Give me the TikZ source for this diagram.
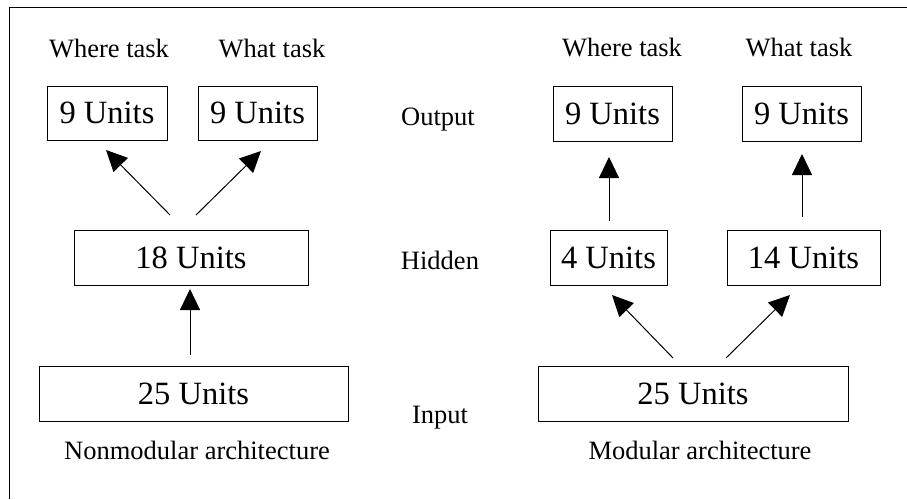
\documentclass[tikz,border=0pt]{standalone}
\usepackage{fontspec}
\setmainfont{Liberation Serif}
\usetikzlibrary{arrows.meta}
\tikzset{
  unitbox/.style={draw, line width=1pt, inner sep=0pt, font=\fontsize{32.5}{38}\selectfont},
  lbl/.style={inner sep=0pt, font=\fontsize{26.5}{32}\selectfont},
  conn/.style={line width=1pt, -{Triangle[length=21pt,width=20pt]}}
}
\begin{document}
\begin{tikzpicture}[x=1pt,y=-1pt]
\useasboundingbox (0,0) rectangle (907,499);
% frame (top and left only)
\draw[line width=1pt] (907,7.5) -- (9,7.5) -- (9,499);

% ---- Nonmodular ----
\node[lbl] (lwhere) at (109,49) {Where task};
\node[lbl] (lwhat) at (272,49) {What task};
\node[unitbox, minimum width=120pt, minimum height=54pt] (lo1) at (107,113) {9 Units};
\node[unitbox, minimum width=119pt, minimum height=54pt] (lo2) at (257.5,113) {9 Units};
\node[unitbox, minimum width=234pt, minimum height=55pt] (lh) at (191,257.5) {18 Units};
\node[unitbox, minimum width=309pt, minimum height=55pt] (li) at (193.5,393.5) {25 Units};
\node[lbl] (lcap) at (197,450) {Nonmodular architecture};

\coordinate (la1s) at (170,215);
\coordinate (la1e) at (106,150);
\coordinate (la2s) at (196,215);
\coordinate (la2e) at (261,151);
\coordinate (la3s) at (190,355);
\coordinate (la3e) at (190,289);
\draw[conn] (la1s) -- (la1e);
\draw[conn] (la2s) -- (la2e);
\draw[conn] (la3s) -- (la3e);

% ---- Layer labels ----
\node[lbl] (outl) at (438,120) {Output};
\node[lbl] (hidl) at (440,260) {Hidden};
\node[lbl] (inl) at (440,418) {Input};

% ---- Modular ----
\node[lbl] (rwhere) at (622,48) {Where task};
\node[lbl] (rwhat) at (799,48) {What task};
\node[unitbox, minimum width=119pt, minimum height=55pt] (ro1) at (612.5,113.5) {9 Units};
\node[unitbox, minimum width=119pt, minimum height=55pt] (ro2) at (801.5,113.5) {9 Units};
\node[unitbox, minimum width=117pt, minimum height=55pt] (rh1) at (608.5,257.5) {4 Units};
\node[unitbox, minimum width=153pt, minimum height=55pt] (rh2) at (803.5,257.5) {14 Units};
\node[unitbox, minimum width=310pt, minimum height=55pt] (ri) at (693,393.5) {25 Units};
\node[lbl] (rcap) at (700,450) {Modular architecture};

\coordinate (ra1s) at (609,221);
\coordinate (ra1e) at (609,157);
\coordinate (ra2s) at (802,217);
\coordinate (ra2e) at (802,154);
\coordinate (ra3s) at (673,358);
\coordinate (ra3e) at (612,295);
\coordinate (ra4s) at (726,358);
\coordinate (ra4e) at (790,295);
\draw[conn] (ra1s) -- (ra1e);
\draw[conn] (ra2s) -- (ra2e);
\draw[conn] (ra3s) -- (ra3e);
\draw[conn] (ra4s) -- (ra4e);
\end{tikzpicture}
\end{document}
